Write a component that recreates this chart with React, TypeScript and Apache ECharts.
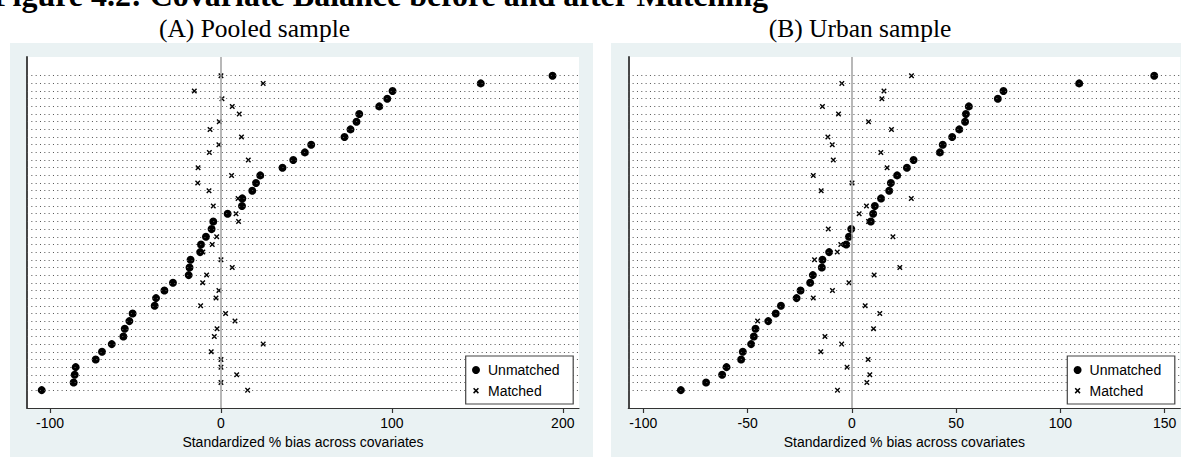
import React, { useEffect, useRef } from "react";
import * as echarts from "echarts";

// Row order: top (0) to bottom (41)
const pooledUnmatched = [194, 152, 100.4, 97.3, 92.6, 80.9, 79.3, 75.8, 72.3, 52.8, 49.1, 42.3, 36, 23, 20.5, 18.3, 12.5, 12.3, 3.9, -4.5, -5.5, -8.8, -11.7, -12.2, -17.8, -18.4, -18.9, -28.1, -33.1, -38, -38.8, -51.7, -53.6, -56.3, -57.1, -63.9, -69.6, -73.3, -85, -85.6, -86.2, -104.9];
const pooledMatched = [0, 24.7, -15.6, 0.6, 6.6, 10.7, -1, -6.4, 12, -1.2, -6.8, 16, -13.4, 6.2, -13.6, -7, 10, -4.5, 8.8, 10.3, -5, -2.5, -5.1, -10.6, 0, 6.6, -8.4, -10.7, -1.2, -2.9, -11.9, 2.7, 8.2, -2.3, -3.9, 24.7, -5.7, 0, 0, 9.2, 0, 15.6];
const urbanUnmatched = [145, 109, 72.7, 70, 56.1, 54.7, 54.3, 51.5, 48.1, 43.6, 42.2, 29.6, 26.4, 21.7, 18.7, 17.9, 14, 11, 10.2, 9.1, -0.3, -1.4, -2.7, -10.9, -14.1, -14.4, -18.7, -20, -24.6, -26.5, -34, -36.5, -40.1, -46.2, -47, -48.3, -52.3, -53.1, -60.1, -62.2, -69.9, -82];
const urbanMatched = [28.6, -4.8, 15.4, 14.4, -14.1, -6.4, 8, 19, -11.5, -9.4, 13.9, -8.9, 16.9, -18.5, 0.1, -14.7, 28.5, 7, 3.5, 8, -11.3, 19.7, -5.3, -7, -17.9, 23, 10.7, -1.4, -9.3, -18.5, 6.4, 13.4, -45.2, 10.4, -12.9, -4.9, -14.9, 7.8, -2.3, 8.6, 7.2, -6.9];

const pooledTicks = [-100, 0, 100, 200];
const urbanTicks = [-100, -50, 0, 50, 100, 150];

const figureTitle = "Figure 4.2: Covariate Balance before and after Matching";
const panelTitles = ["(A) Pooled sample", "(B) Urban sample"];
const axisTitle = "Standardized % bias across covariates";
const legendNames = ["Unmatched", "Matched"];

const SANS = "Liberation Sans, Arial, sans-serif";
const SERIF = "Liberation Serif, Times New Roman, serif";
const X_SYMBOL = "path://M0,1.8L1.8,0L5,3.2L8.2,0L10,1.8L6.8,5L10,8.2L8.2,10L5,6.8L1.8,10L0,8.2L3.2,5Z";

function toPoints(vals: number[]) {
  return vals.map((v, i) => [v, i]);
}

function legendGraphic(x: number, y: number) {
  const cx = x + 10.3;
  return [
    {
      type: "rect",
      z: 100,
      shape: { x, y, width: 107.5, height: 48 },
      style: { fill: "#fff", stroke: "#444", lineWidth: 1.2 },
    },
    { type: "circle", z: 101, shape: { cx, cy: y + 14, r: 4 }, style: { fill: "#000" } },
    { type: "line", z: 101, shape: { x1: cx - 2.4, y1: y + 32.3, x2: cx + 2.4, y2: y + 37.1 }, style: { stroke: "#000", lineWidth: 1.5 } },
    { type: "line", z: 101, shape: { x1: cx - 2.4, y1: y + 37.1, x2: cx + 2.4, y2: y + 32.3 }, style: { stroke: "#000", lineWidth: 1.5 } },
    {
      type: "text", z: 101, x: x + 22.3, y: y + 14,
      style: { text: legendNames[0], font: `14px ${SANS}`, fill: "#000", verticalAlign: "middle", align: "left" },
    },
    {
      type: "text", z: 101, x: x + 22.3, y: y + 34.7,
      style: { text: legendNames[1], font: `14px ${SANS}`, fill: "#000", verticalAlign: "middle", align: "left" },
    },
  ];
}

export default function App() {
  const ref = useRef<HTMLDivElement>(null);
  useEffect(() => {
    if (!ref.current) return;
    const chart = echarts.init(ref.current, undefined, { renderer: "svg" });
    const rows = pooledUnmatched.map((_, i) => i);

    const mkX = (min: number, max: number, ticks: number[], idx: number) => ({
      type: "value",
      gridIndex: idx,
      min,
      max,
      axisLine: { show: true, onZero: false, lineStyle: { color: "#333", width: 1.2 } },
      axisTick: { show: true, customValues: ticks, length: 5, lineStyle: { color: "#333", width: 1.2 } },
      axisLabel: { customValues: ticks, fontSize: 14, fontFamily: SANS, color: "#000", margin: 8 },
      splitLine: { show: false },
      name: axisTitle,
      nameLocation: "middle",
      nameGap: 25,
      nameTextStyle: { fontSize: 14, fontFamily: SANS, color: "#000" },
    });
    const mkY = (idx: number) => ({
      type: "value",
      gridIndex: idx,
      inverse: true,
      min: -2.44,
      max: 43.33,
      axisLine: { show: true, onZero: false, lineStyle: { color: "#333", width: 1.8 } },
      axisTick: { show: false },
      axisLabel: { show: false },
      splitLine: { show: false },
    });
    const mkLines = (idx: number) => ({
      type: "scatter",
      xAxisIndex: idx,
      yAxisIndex: idx,
      symbol: "none",
      data: [[0, 0]],
      z: 1,
      silent: true,
      markLine: {
        silent: true,
        symbol: ["none", "none"],
        label: { show: false },
        animation: false,
        data: [
          ...rows.map((i) => ({ yAxis: i, lineStyle: { type: [1, 3.33], color: "#555", width: 1 } })),
          { xAxis: 0, lineStyle: { type: "solid", color: "#a0a0a0", width: 1.5 } },
        ],
      },
    });
    const mkPts = (idx: number, vals: number[], name: string, matched: boolean) => ({
      type: "scatter",
      name,
      xAxisIndex: idx,
      yAxisIndex: idx,
      z: matched ? 4 : 3,
      symbol: matched ? X_SYMBOL : "circle",
      symbolSize: matched ? 5.5 : 8,
      itemStyle: { color: "#000", opacity: 1 },
      data: toPoints(vals),
    });

    chart.setOption({
      animation: false,
      backgroundColor: "#fff",
      grid: [
        { left: 27, top: 57, width: 552, height: 351, show: true, backgroundColor: "#fff", borderWidth: 0 },
        { left: 628.3, top: 57, width: 552, height: 351, show: true, backgroundColor: "#fff", borderWidth: 0 },
      ],
      xAxis: [mkX(-113.5, 209.5, pooledTicks, 0), mkX(-107.2, 157.5, urbanTicks, 1)],
      yAxis: [mkY(0), mkY(1)],
      series: [
        mkLines(0),
        mkPts(0, pooledUnmatched, legendNames[0], false),
        mkPts(0, pooledMatched, legendNames[1], true),
        mkLines(1),
        mkPts(1, urbanUnmatched, legendNames[0], false),
        mkPts(1, urbanMatched, legendNames[1], true),
      ],
      graphic: [
        { type: "rect", z: -10, shape: { x: 10, y: 43, width: 583, height: 414 }, style: { fill: "#EAF2F3" } },
        { type: "rect", z: -10, shape: { x: 611, y: 43, width: 570, height: 414 }, style: { fill: "#EAF2F3" } },
        {
          type: "text", x: -7, y: -5.5,
          style: { text: figureTitle, font: `bold 32px ${SERIF}`, fill: "#000", verticalAlign: "middle", align: "left" },
        },
        {
          type: "text", x: 254.5, y: 28,
          style: { text: panelTitles[0], font: `25.5px ${SERIF}`, fill: "#000", verticalAlign: "middle", align: "center" },
        },
        {
          type: "text", x: 860, y: 28,
          style: { text: panelTitles[1], font: `25.5px ${SERIF}`, fill: "#000", verticalAlign: "middle", align: "center" },
        },
        ...legendGraphic(465.7, 356),
        ...legendGraphic(1067.3, 356),
      ],
    });
    return () => chart.dispose();
  }, []);
  return (
    <div
      ref={ref}
      style={{ position: "fixed", left: 0, top: 0, width: 1181, height: 457, background: "#fff" }}
    />
  );
}
